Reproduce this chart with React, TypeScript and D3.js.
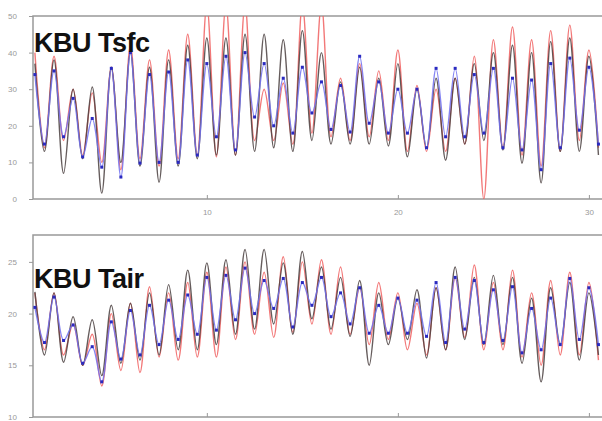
import React, { useEffect, useRef } from 'react';
import * as d3 from 'd3';

// day of month, afternoon peak at the day, pre-dawn low half a day later
const days = d3.range(1, 31);

// KBU Tsfc
const tsfcBlueMax = [34, 35, 27.5, 22, 35.7, 40, 34, 34.7, 38, 37, 39, 40, 37, 33, 36, 32, 31, 39, 32, 30, 30, 35.7, 35.7, 34, 35.7, 33, 32.5, 37, 38.5, 36];
const tsfcBlueMin = [15, 17, 11.5, 8.7, 6, 9.8, 10, 10, 12, 17, 13.4, 22.4, 20, 18, 23.5, 19, 18.3, 20.7, 18, 18, 14, 17, 17, 18, 14, 13.4, 8, 14, 18.8, 15];
const tsfcRedMax = [40, 39, 30, 29, 36, 42, 38, 40.7, 45, 53, 53, 53, 30, 31.7, 53, 53, 33, 37, 35, 40.7, 31, 30, 33, 39, 43.5, 47, 43.5, 46, 47.5, 40.7];
const tsfcRedMin = [14, 16, 12, 10, 8, 11, 9, 11, 12, 11.5, 12, 16, 16, 15, 18, 17, 16, 17, 16, 13, 13, 13, 15, 0, 14, 12, 9, 13, 16, 14];
const tsfcBlackMax = [37, 38, 30, 30.6, 36, 40, 36, 38, 42, 44, 44, 45, 45, 43.5, 46, 40, 32, 36, 33, 37, 30, 33, 33, 37, 40, 42, 40, 43, 44, 39];
const tsfcBlackMin = [13, 7, 11, 1.6, 10, 9, 4.6, 9, 11, 12, 12, 13, 14, 13, 16, 15, 15, 15, 14.5, 11.5, 14, 10.6, 15, 16, 13.4, 9.8, 4.4, 13, 13, 12];

// KBU Tair
const tairBlueMax = [20.6, 21.6, 18.9, 16.8, 19.2, 20.3, 20.8, 21.3, 21.8, 23.5, 23.7, 24.4, 23.2, 23.4, 23, 23.5, 22, 22.5, 20.8, 21.5, 21.3, 23, 23.5, 23.2, 22.3, 22.6, 20.5, 21.5, 23.4, 22.5];
const tairBlueMin = [17.2, 17.4, 15.2, 13.4, 15.6, 16, 17, 17.5, 18, 18.4, 19.4, 20, 20.5, 18.7, 20.8, 19.7, 19, 18.1, 18.1, 18.1, 17.8, 17.2, 18.5, 17.2, 17.4, 16.2, 16.5, 17, 17.5, 17];
const tairRedMax = [22, 22, 19, 18, 20, 21, 22.6, 22, 23, 24, 24.5, 25, 24, 25.5, 25, 25.2, 24.5, 22.5, 23, 22, 21, 22.5, 23.5, 24.7, 23, 24.2, 22, 23.2, 24, 23];
const tairRedMin = [16.5, 16, 15, 13, 14.5, 14.3, 15.8, 15.5, 15.8, 15.8, 17.5, 18, 17.7, 18.2, 19, 18, 18, 17, 17.5, 16.5, 16, 16.5, 17.7, 16.5, 16.5, 15.8, 15, 16, 16, 15.5];
const tairBlackMax = [22.1, 22, 19.7, 19.4, 20.8, 21, 22, 22.8, 24.2, 24.9, 25.2, 26.2, 26.2, 24.9, 26, 24.5, 23.5, 23.2, 22, 21.5, 22.3, 22.5, 24.5, 23.5, 23.7, 23.5, 21.5, 22.5, 23, 22];
const tairBlackMin = [16, 15.3, 15, 14, 15.2, 15.5, 16, 16.5, 16.5, 17, 18, 18.5, 19, 18, 19.5, 18.5, 17.8, 15, 17, 17.5, 15.7, 16.5, 17.5, 17, 17, 15.2, 13.4, 17, 15.5, 16];

const tsfcTicks = [0, 10, 20, 30, 40, 50];
const tairTicks = [10, 15, 20, 25];
const dayTicks = [10, 20, 30];

const toPoints = (maxArr: number[], minArr: number[]) =>
  days.flatMap((d, i) => [
    [d, maxArr[i]],
    [d + 0.5, minArr[i]],
  ]);

const App = () => {
  const ref = useRef<SVGSVGElement>(null);

  useEffect(() => {
    const svg = d3.select(ref.current);
    svg.selectAll('*').remove();

    const x = d3.scaleLinear().domain([0.9, 31]).range([33, 608]);

    const panels = [
      {
        id: 'tsfc',
        title: 'KBU Tsfc',
        titleY: 52,
        domain: [0, 50],
        range: [199, 16],
        ticks: tsfcTicks,
        xLabels: true,
        series: [
          { color: '#f06060', pts: toPoints(tsfcRedMax, tsfcRedMin) },
          { color: '#4a4040', pts: toPoints(tsfcBlackMax, tsfcBlackMin) },
          { color: '#7070f0', pts: toPoints(tsfcBlueMax, tsfcBlueMin), marks: true },
        ],
      },
      {
        id: 'tair',
        title: 'KBU Tair',
        titleY: 288,
        domain: [10, 27.6],
        range: [417, 235],
        ticks: tairTicks,
        xLabels: false,
        series: [
          { color: '#f06060', pts: toPoints(tairRedMax, tairRedMin) },
          { color: '#4a4040', pts: toPoints(tairBlackMax, tairBlackMin) },
          { color: '#7070f0', pts: toPoints(tairBlueMax, tairBlueMin), marks: true },
        ],
      },
    ];

    panels.forEach((p) => {
      const y = d3.scaleLinear().domain(p.domain).range(p.range);
      const g = svg.append('g');

      g.append('clipPath')
        .attr('id', `clip-${p.id}`)
        .append('rect')
        .attr('x', 33)
        .attr('y', p.range[1])
        .attr('width', 602 - 33)
        .attr('height', p.range[0] - p.range[1]);

      // frame
      g.append('path')
        .attr('d', `M602,${p.range[1]}H33V${p.range[0]}H602`)
        .attr('fill', 'none')
        .attr('stroke', '#999')
        .attr('stroke-width', 1.5);

      // y axis ticks
      const yAxis = g
        .append('g')
        .attr('transform', 'translate(33,0)')
        .call(d3.axisLeft(y).tickValues(p.ticks).tickSize(4).tickPadding(12).tickFormat(d3.format('d')));
      yAxis.select('.domain').remove();
      yAxis.selectAll('line').attr('stroke', '#999');
      yAxis.selectAll('text').attr('fill', '#999').attr('font-size', 8).attr('font-family', 'Arial, sans-serif');

      // x axis ticks
      const xAxis = g
        .append('g')
        .attr('transform', `translate(0,${p.range[0]})`)
        .call(
          d3
            .axisBottom(x)
            .tickValues(dayTicks)
            .tickSize(-4)
            .tickPadding(10)
            .tickFormat(p.xLabels ? d3.format('d') : () => '')
        );
      xAxis.select('.domain').remove();
      xAxis.selectAll('line').attr('stroke', '#999');
      xAxis.selectAll('text').attr('fill', '#999').attr('font-size', 8).attr('font-family', 'Arial, sans-serif');

      const line = d3
        .line<number[]>()
        .x((d) => x(d[0]))
        .y((d) => y(d[1]))
        .curve(d3.curveCatmullRom.alpha(0.5));

      const plot = g.append('g').attr('clip-path', `url(#clip-${p.id})`);

      p.series.forEach((s) => {
        plot
          .append('path')
          .datum(s.pts)
          .attr('d', line)
          .attr('fill', 'none')
          .attr('stroke', s.color)
          .attr('stroke-width', 1.4)
          .attr('stroke-opacity', 0.85);

        if (s.marks) {
          plot
            .selectAll(null)
            .data(s.pts)
            .enter()
            .append('rect')
            .attr('x', (d) => x(d[0]) - 1.5)
            .attr('y', (d) => y(d[1]) - 1.5)
            .attr('width', 3)
            .attr('height', 3)
            .attr('fill', '#2a2ac0');
        }
      });

      g.append('text')
        .attr('x', 34)
        .attr('y', p.titleY)
        .attr('font-family', 'Arial, Liberation Sans, sans-serif')
        .attr('font-weight', 'bold')
        .attr('font-size', 27)
        .attr('letter-spacing', -0.5)
        .attr('fill', '#111')
        .text(p.title);
    });
  }, []);

  return (
    <div style={{ position: 'absolute', left: 0, top: 0, background: '#fff' }}>
      <svg ref={ref} width={602} height={421} style={{ display: 'block' }} />
    </div>
  );
};

export default App;
